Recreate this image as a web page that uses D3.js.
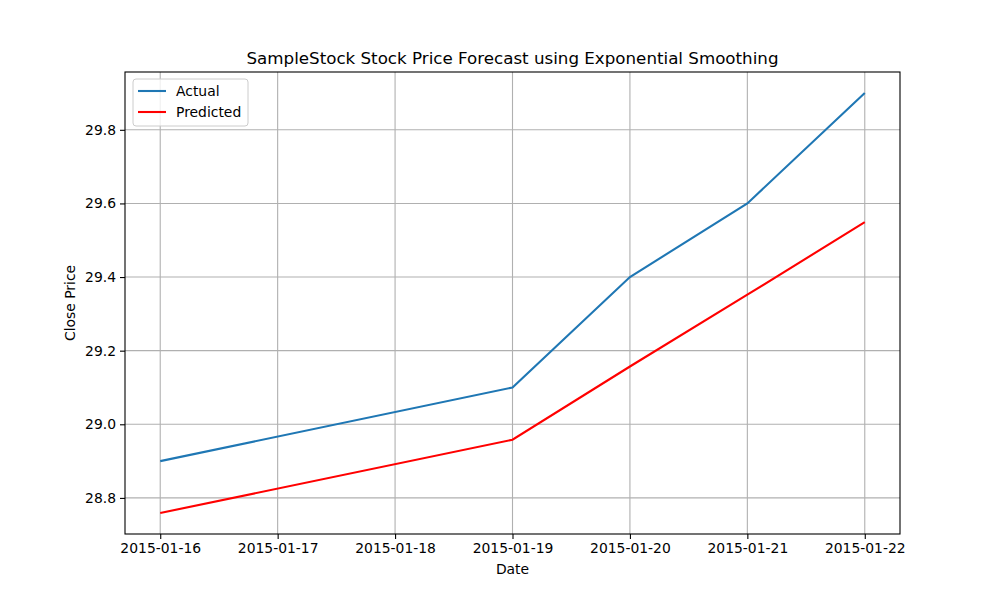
<!DOCTYPE html>
<html lang="en">
<head>
  <meta charset="UTF-8" />
  <title>SampleStock Stock Price Forecast</title>
  <script src="https://cdn.jsdelivr.net/npm/d3@7"></script>
  <style>
    html, body { margin: 0; padding: 0; background: #fff; }
    svg { display: block; font-family: "DejaVu Sans", sans-serif; }
  </style>
</head>
<body>
  <script>
    // ------ Data ------
    const dates = ["2015-01-16", "2015-01-19", "2015-01-20", "2015-01-21", "2015-01-22"];
    const actual = [28.9, 29.1, 29.4, 29.6, 29.9];
    const predicted = [28.759, 28.958, 29.157, 29.352, 29.549];
    const xTickLabels = ["2015-01-16", "2015-01-17", "2015-01-18", "2015-01-19", "2015-01-20", "2015-01-21", "2015-01-22"];
    const yTicks = [28.8, 29.0, 29.2, 29.4, 29.6, 29.8];

    const width = 1000, height = 600;
    const margin = { left: 125, right: 100, top: 72, bottom: 66 };
    const parse = d3.utcParse("%Y-%m-%d");

    const svg = d3.select("body").append("svg")
      .attr("width", width)
      .attr("height", height);

    // matplotlib-style 5% padding on each side
    const xMin = parse(xTickLabels[0]), xMax = parse(xTickLabels[xTickLabels.length - 1]);
    const xPad = (xMax - xMin) * 0.05;
    const x = d3.scaleUtc()
      .domain([new Date(+xMin - xPad), new Date(+xMax + xPad)])
      .range([margin.left, width - margin.right]);

    const allY = actual.concat(predicted);
    const yLo = d3.min(allY), yHi = d3.max(allY);
    const yPad = (yHi - yLo) * 0.05;
    const y = d3.scaleLinear()
      .domain([yLo - yPad, yHi + yPad])
      .range([height - margin.bottom, margin.top]);

    const plotW = width - margin.left - margin.right;
    const plotH = height - margin.top - margin.bottom;

    // ------ Grid ------
    const grid = svg.append("g");
    xTickLabels.forEach(t => {
      grid.append("line")
        .attr("x1", x(parse(t))).attr("x2", x(parse(t)))
        .attr("y1", margin.top).attr("y2", height - margin.bottom)
        .attr("stroke", "#b0b0b0").attr("stroke-width", 1.1);
    });
    yTicks.forEach(t => {
      grid.append("line")
        .attr("x1", margin.left).attr("x2", width - margin.right)
        .attr("y1", y(t)).attr("y2", y(t))
        .attr("stroke", "#b0b0b0").attr("stroke-width", 1.1);
    });

    // ------ Lines ------
    const line = d3.line()
      .x((d, i) => x(parse(dates[i])))
      .y(d => y(d));

    svg.append("path").datum(actual)
      .attr("fill", "none").attr("stroke", "#1f77b4").attr("stroke-width", 2.1)
      .attr("d", line);
    svg.append("path").datum(predicted)
      .attr("fill", "none").attr("stroke", "red").attr("stroke-width", 2.1)
      .attr("d", line);

    // ------ Axes ------
    const xAxis = d3.axisBottom(x)
      .tickValues(xTickLabels.map(parse))
      .tickFormat(d3.utcFormat("%Y-%m-%d"))
      .tickSize(5).tickPadding(4);
    const yAxis = d3.axisLeft(y)
      .tickValues(yTicks)
      .tickFormat(d3.format(".1f"))
      .tickSize(5).tickPadding(4);

    const gx = svg.append("g")
      .attr("transform", `translate(0,${height - margin.bottom})`)
      .call(xAxis);
    const gy = svg.append("g")
      .attr("transform", `translate(${margin.left},0)`)
      .call(yAxis);
    [gx, gy].forEach(g => {
      g.select(".domain").remove();
      g.selectAll("text").attr("font-size", 13.9).attr("fill", "#000")
        .attr("font-family", "DejaVu Sans");
      g.selectAll("line").attr("stroke", "#000").attr("stroke-width", 1.1);
    });

    // frame
    svg.append("rect")
      .attr("x", margin.left).attr("y", margin.top)
      .attr("width", plotW).attr("height", plotH)
      .attr("fill", "none").attr("stroke", "#000").attr("stroke-width", 1.1);

    // ------ Labels ------
    svg.append("text")
      .attr("x", margin.left + plotW / 2).attr("y", 64)
      .attr("text-anchor", "middle").attr("font-size", 16.7)
      .text("SampleStock Stock Price Forecast using Exponential Smoothing");
    svg.append("text")
      .attr("x", margin.left + plotW / 2).attr("y", 574)
      .attr("text-anchor", "middle").attr("font-size", 13.9)
      .text("Date");
    svg.append("text")
      .attr("transform", `translate(75,${margin.top + plotH / 2}) rotate(-90)`)
      .attr("text-anchor", "middle").attr("font-size", 13.9)
      .text("Close Price");

    // ------ Legend ------
    const legend = svg.append("g").attr("transform", "translate(133,79)");
    legend.append("rect")
      .attr("width", 115).attr("height", 47).attr("rx", 3)
      .attr("fill", "#fff").attr("fill-opacity", 0.8)
      .attr("stroke", "#cccccc").attr("stroke-width", 1);
    const items = [{ name: "Actual", color: "#1f77b4" }, { name: "Predicted", color: "red" }];
    items.forEach((it, i) => {
      const yy = 12 + i * 21;
      legend.append("line")
        .attr("x1", 5).attr("x2", 33).attr("y1", yy).attr("y2", yy)
        .attr("stroke", it.color).attr("stroke-width", 2.1);
      legend.append("text")
        .attr("x", 43).attr("y", yy + 5).attr("font-size", 13.9)
        .text(it.name);
    });
  </script>
</body>
</html>
